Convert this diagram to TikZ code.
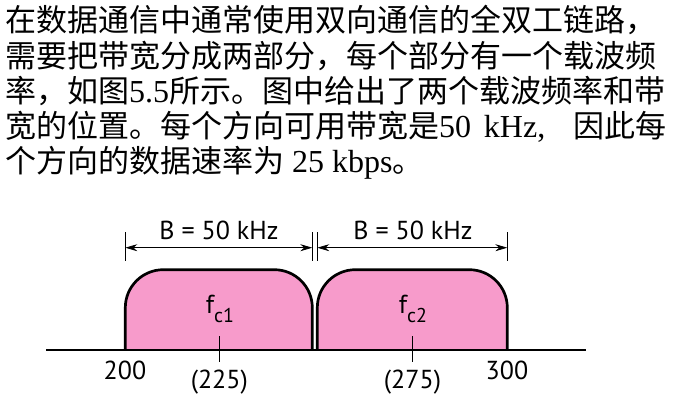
\documentclass[tikz,border=0pt]{standalone}
\usepackage{fontspec}
\setmainfont{Liberation Serif}
\newfontfamily\cjk{Noto Sans CJK SC}
\newfontfamily\figfont{PT Sans}
\usetikzlibrary{arrows.meta}
\definecolor{bandpink}{RGB}{247,155,203}
\newcommand{\lowsub}[1]{\raisebox{-0.33em}{\fontsize{20}{20}\selectfont #1}}
\newcommand{\lat}[1]{{\fontsize{32}{32}\selectfont #1}}

\begin{document}
\begin{tikzpicture}[x=1pt,y=-1pt,
	txt/.style={anchor=west,inner sep=0pt,font=\fontsize{31}{31}\selectfont},
	lbl/.style={inner sep=0pt,font=\figfont\fontsize{26}{26}\selectfont},
	band/.style={draw=black,fill=bandpink,line width=2.7pt,rounded corners=38pt},
	dimline/.style={line width=0.8pt,{Stealth[length=12pt,width=7pt]}-{Stealth[length=12pt,width=7pt]}},
	ext/.style={line width=0.8pt}]
	\useasboundingbox (0,0) rectangle (673,405);

	\node[txt] (l1) at (5,20) {\cjk 在数据通信中通常使用双向通信的全双工链路，};
	\node[txt] (l2) at (5,56) {\cjk 需要把带宽分成两部分，每个部分有一个载波频};
	\node[txt] (l3) at (5,91) {{\cjk 率，如图}\lat{5.5}{\cjk 所示。图中给出了两个载波频率和带}};
	\node[txt] (l4) at (5,127) {{\cjk 宽的位置。每个方向可用带宽是}\lat{50\hspace{0.4em}kHz,}\hspace{0.9em}{\cjk 因此每}};
	\node[txt] (l5) at (5,163) {{\cjk 个方向的数据速率为}\lat{ 25 kbps}{\cjk 。}};

	% band edges on the axis
	\coordinate (e1) at (125.3,350);
	\coordinate (e2) at (312.3,350);
	\coordinate (e3) at (317.3,350);
	\coordinate (e4) at (507.3,350);

	\filldraw[band] (e1) -- ++(0,-80.3) -| (e2);
	\filldraw[band] (e3) -- ++(0,-80.3) -| (e4);

	\coordinate (ax0) at (46,350);
	\coordinate (ax1) at (586,350);
	\draw[line width=2pt] (ax0) -- (ax1);

	% bandwidth marks
	\draw[ext] (125.3,232) coordinate (t1) -- (125.3,261);
	\draw[ext] (312.3,232) coordinate (t2) -- (312.3,261);
	\draw[ext] (317.3,232) coordinate (t3) -- (317.3,261);
	\draw[ext] (507.3,232) coordinate (t4) -- (507.3,261);
	\draw[dimline] ([yshift=-15.7pt]t1) -- ([yshift=-15.7pt]t2);
	\draw[dimline] ([yshift=-15.7pt]t3) -- ([yshift=-15.7pt]t4);
	\node[lbl] (bw1) at (219,230) {B = 50 kHz};
	\node[lbl] (bw2) at (413,230) {B = 50 kHz};

	\node[lbl] (fc1) at (220,309) {f\lowsub{c1}};
	\node[lbl] (fc2) at (413,309) {f\lowsub{c2}};
	\node[lbl] (f200) at (125,370) {200};
	\node[lbl] (f300) at (507,370) {300};
	\node[lbl] (f225) at (219.3,382) {(225)};
	\node[lbl] (f275) at (412.5,382) {(275)};
	\draw[line width=1.2pt] (f225.north) ++(0,-8) -- ++(0,-26);
	\draw[line width=1.2pt] (f275.north) ++(0,-8) -- ++(0,-26);
\end{tikzpicture}
\end{document}
